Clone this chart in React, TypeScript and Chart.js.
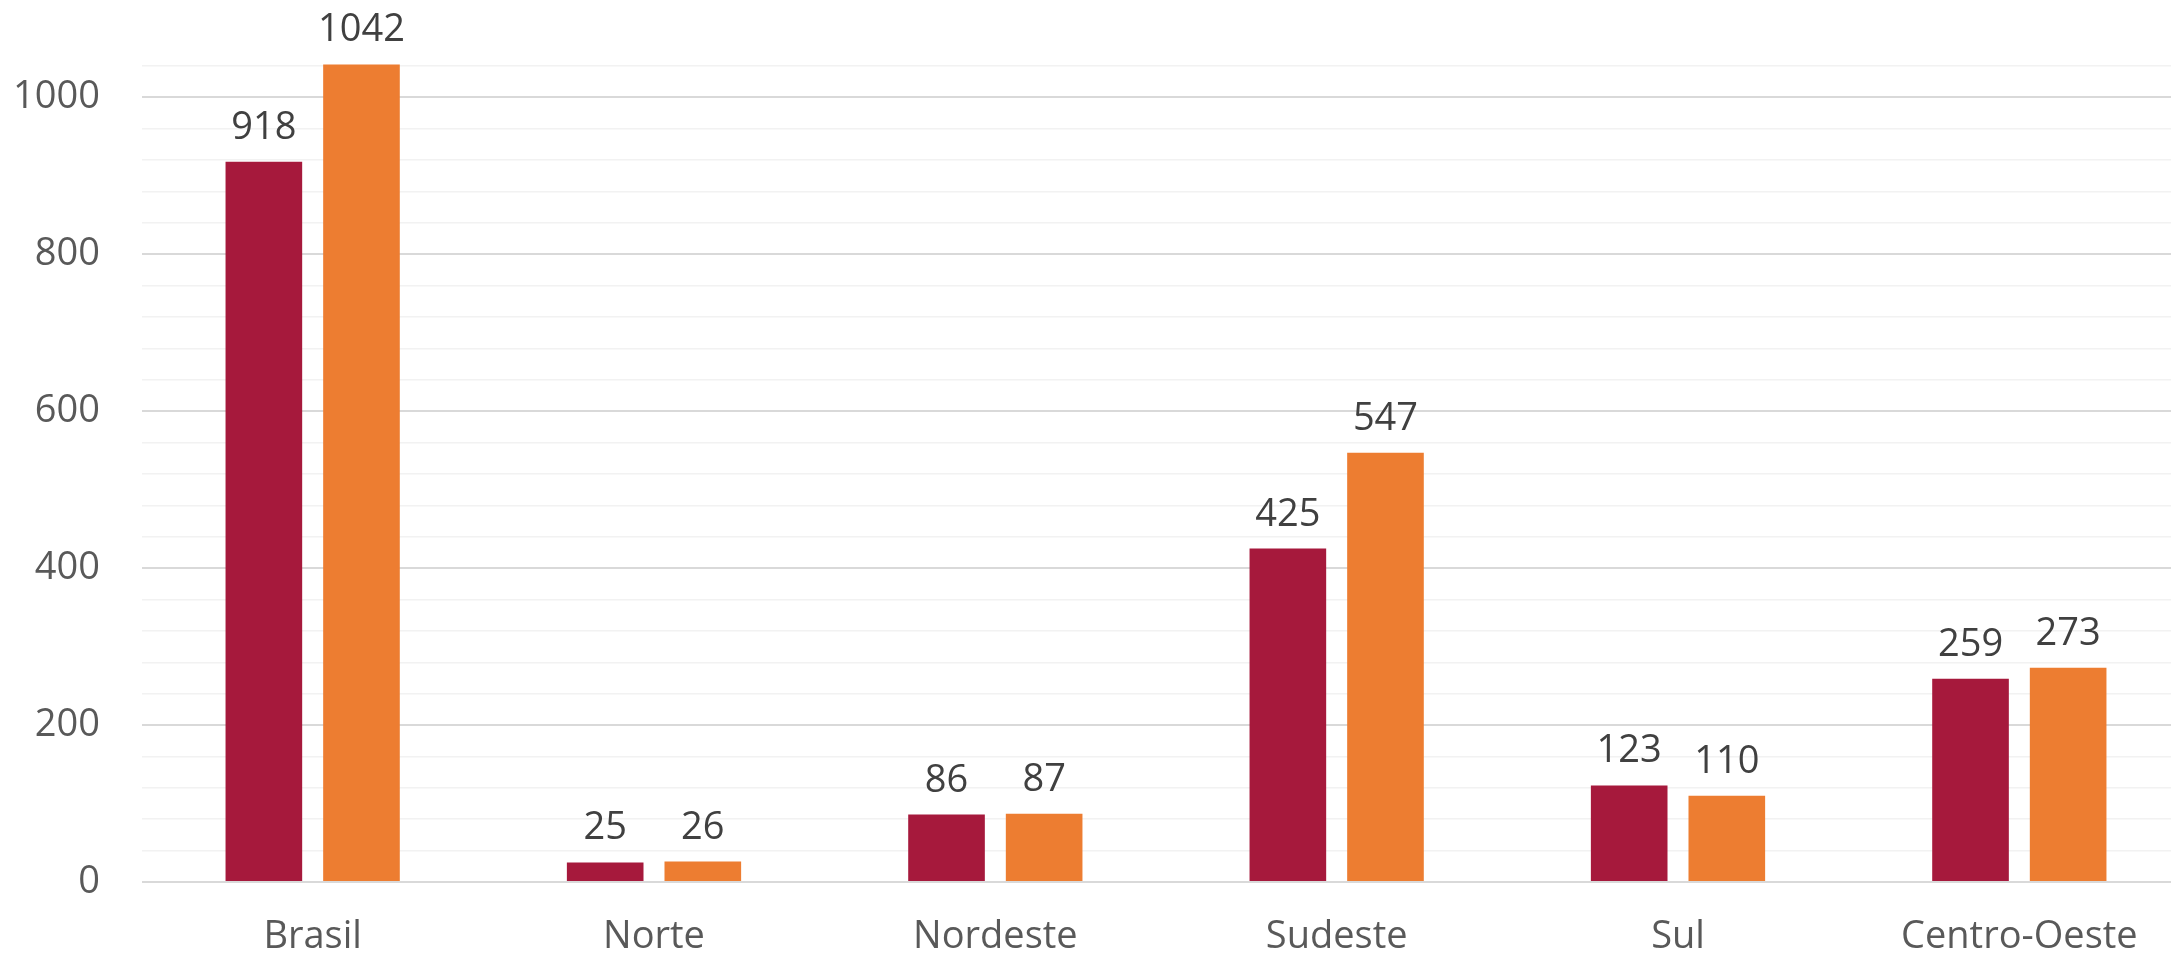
import { Chart, registerables } from 'chart.js'
import { useEffect, useRef } from 'react'

Chart.register(...registerables)

// categorias e valores
const regioes = ['Brasil', 'Norte', 'Nordeste', 'Sudeste', 'Sul', 'Centro-Oeste']
const serieA = [918, 25, 86, 425, 123, 259]
const serieB = [1042, 26, 87, 547, 110, 273]
const marcasEixoY = [0, 200, 400, 600, 800, 1000]

const FONTE = '"Open Sans", "Noto Sans", sans-serif'

// rótulos de valor acima das barras
const rotulosPlugin = {
  id: 'rotulos',
  afterDatasetsDraw(chart: any) {
    const ctx = chart.ctx
    ctx.save()
    ctx.font = `38px ${FONTE}`
    ctx.fillStyle = '#404040'
    ctx.textAlign = 'center'
    ctx.textBaseline = 'alphabetic'
    chart.data.datasets.forEach((ds: any, i: number) => {
      const meta = chart.getDatasetMeta(i)
      meta.data.forEach((bar: any, j: number) => {
        ctx.fillText(String(ds.data[j]), bar.x, bar.y - 23)
      })
    })
    ctx.restore()
  }
}

export default function App() {
  const canvasRef = useRef<HTMLCanvasElement | null>(null)

  useEffect(() => {
    document.body.style.margin = '0'
    const ctx = canvasRef.current?.getContext('2d')
    if (!ctx) return

    const chart = new Chart(ctx, {
      type: 'bar',
      data: {
        labels: regioes,
        datasets: [
          {
            label: 'A',
            data: serieA,
            backgroundColor: '#A6193C',
            categoryPercentage: 0.572,
            barPercentage: 0.785
          },
          {
            label: 'B',
            data: serieB,
            backgroundColor: '#ED7D31',
            categoryPercentage: 0.572,
            barPercentage: 0.785,
            clip: false
          }
        ]
      },
      options: {
        animation: false,
        responsive: true,
        maintainAspectRatio: false,
        layout: { padding: { top: 66, right: 0, bottom: 0, left: 0 } },
        plugins: {
          legend: { display: false },
          tooltip: { enabled: false }
        },
        scales: {
          x: {
            grid: { display: false, drawTicks: false },
            border: { display: false },
            ticks: {
              color: '#595959',
              font: { family: FONTE, size: 38 },
              padding: 32
            },
            afterFit: (scale: any) => {
              scale.height = 73
            }
          },
          y: {
            min: 0,
            max: 1040,
            border: { display: false },
            grid: {
              drawTicks: false,
              color: (c: any) => (c.tick.value % 200 === 0 ? '#d9d9d9' : '#f2f2f2'),
              lineWidth: (c: any) => (c.tick.value % 200 === 0 ? 2 : 1.5)
            },
            ticks: {
              stepSize: 40,
              autoSkip: false,
              color: '#595959',
              font: { family: FONTE, size: 38 },
              padding: 42,
              callback: (v: any) => (marcasEixoY.includes(Number(v)) ? String(v) : '')
            },
            afterFit: (scale: any) => {
              scale.width = 142
            }
          }
        }
      },
      plugins: [rotulosPlugin]
    })

    return () => {
      chart.destroy()
    }
  }, [])

  return (
    <div style={{ width: 2171, height: 955, overflow: 'hidden', background: '#fff' }}>
      <div style={{ position: 'relative', width: 2190, height: 955 }}>
        <canvas ref={canvasRef} />
      </div>
    </div>
  )
}
